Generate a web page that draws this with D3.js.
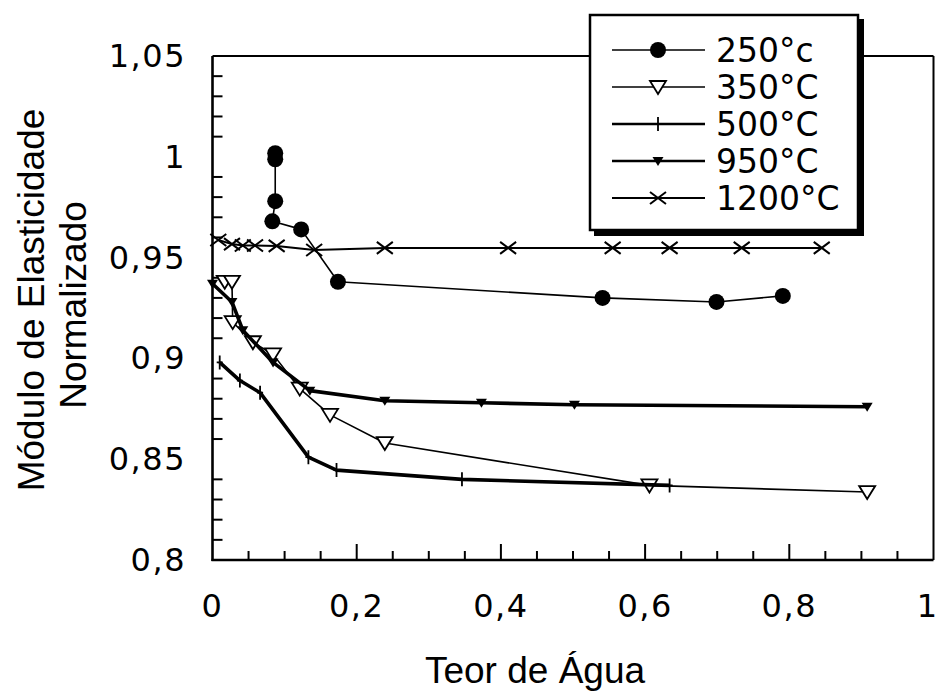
<!DOCTYPE html>
<html>
<head>
<meta charset="utf-8">
<script src="https://cdn.jsdelivr.net/npm/d3@7"></script>
<style>
  body { margin: 0; background: #fff; }
  .tick-label { font-family: "DejaVu Sans", sans-serif; font-size: 32px; letter-spacing: 1.5px; fill: #000; }
  .legend-label { font-family: "DejaVu Sans", sans-serif; font-size: 33px; fill: #000; }
  .axis-title { font-family: "Liberation Sans", Arial, sans-serif; font-size: 37px; fill: #000; }
</style>
</head>
<body>
<div id="chart"></div>
<script>
// data
const x250 = [0.087, 0.087, 0.087, 0.083, 0.123, 0.174, 0.541, 0.699, 0.791];
const y250 = [1.0018, 0.9988, 0.978, 0.968, 0.964, 0.938, 0.930, 0.928, 0.931];

const x350 = [0.017, 0.027, 0.028, 0.056, 0.084, 0.121, 0.163, 0.239, 0.606, 0.908];
const y350 = [0.938, 0.938, 0.918, 0.908, 0.902, 0.885, 0.872, 0.858, 0.837, 0.8337];

const x500 = [0.01, 0.038, 0.066, 0.133, 0.172, 0.346, 0.634];
const y500 = [0.898, 0.889, 0.883, 0.851, 0.8446, 0.840, 0.837];

const x950 = [0.0, 0.027, 0.042, 0.084, 0.135, 0.239, 0.373, 0.502, 0.908];
const y950 = [0.937, 0.928, 0.914, 0.898, 0.884, 0.879, 0.878, 0.877, 0.876];

const x1200 = [0.008, 0.027, 0.042, 0.059, 0.089, 0.141, 0.239, 0.41, 0.555, 0.634, 0.734, 0.845];
const y1200 = [0.9587, 0.9567, 0.956, 0.956, 0.9558, 0.9538, 0.9548, 0.9548, 0.9548, 0.9548, 0.9548, 0.9548];

const seriesNames = ["250°c", "350°C", "500°C", "950°C", "1200°C"];
const xTickLabels = ["0", "0,2", "0,4", "0,6", "0,8", "1"];
const yTickLabels = ["0,8", "0,85", "0,9", "0,95", "1", "1,05"];

const series = [
  { name: seriesNames[0], xs: x250, ys: y250, marker: "circle", lw: 1.6 },
  { name: seriesNames[1], xs: x350, ys: y350, marker: "openTri", lw: 1.6 },
  { name: seriesNames[2], xs: x500, ys: y500, marker: "plus", lw: 3.6 },
  { name: seriesNames[3], xs: x950, ys: y950, marker: "fillTri", lw: 3.6 },
  { name: seriesNames[4], xs: x1200, ys: y1200, marker: "cross", lw: 2 }
];

const width = 938;
const height = 691;

const svg = d3.select("#chart").append("svg")
  .attr("width", width)
  .attr("height", height);

const x = d3.scaleLinear().domain([0, 1]).range([212.5, 933.5]);
const y = d3.scaleLinear().domain([0.8, 1.05]).range([560, 56]);

// frame
const frame = svg.append("g").attr("class", "frame");
frame.append("line").attr("x1", x(0)).attr("x2", x(1)).attr("y1", y(1.05)).attr("y2", y(1.05))
  .attr("stroke", "#000").attr("stroke-width", 2);
frame.append("line").attr("x1", x(1)).attr("x2", x(1)).attr("y1", y(1.05)).attr("y2", y(0.8))
  .attr("stroke", "#000").attr("stroke-width", 2);
frame.append("line").attr("x1", x(0)).attr("x2", x(0)).attr("y1", y(1.05)).attr("y2", y(0.8) + 1)
  .attr("stroke", "#000").attr("stroke-width", 2.6);
frame.append("line").attr("x1", x(0) - 1).attr("x2", x(1)).attr("y1", y(0.8)).attr("y2", y(0.8))
  .attr("stroke", "#000").attr("stroke-width", 2.6);

// y minor ticks (inward), none at the labelled values
const yTicks = d3.range(81, 105).map(d => d / 100).filter(d => Math.round(d * 100) % 5 !== 0);
frame.selectAll(".ytick").data(yTicks).enter().append("line")
  .attr("x1", x(0)).attr("x2", x(0) + 10)
  .attr("y1", d => y(d)).attr("y2", d => y(d))
  .attr("stroke", "#000").attr("stroke-width", 2);

// x ticks every 0.05, longer at 0.2
const xTicks = d3.range(1, 20).map(d => d / 20);
frame.selectAll(".xtick").data(xTicks).enter().append("line")
  .attr("x1", d => x(d)).attr("x2", d => x(d))
  .attr("y1", y(0.8))
  .attr("y2", d => Math.round(d * 20) % 4 === 0 ? y(0.8) - 16 : y(0.8) - 9)
  .attr("stroke", "#000").attr("stroke-width", 2);

// tick labels
svg.selectAll(".xlab").data(xTickLabels).enter().append("text")
  .attr("class", "tick-label")
  .attr("x", (d, i) => i === 5 ? 937 : x(i * 0.2))
  .attr("y", 617)
  .attr("text-anchor", (d, i) => i === 5 ? "end" : "middle")
  .style("letter-spacing", (d, i) => i === 5 ? "0px" : null)
  .text(d => d);

svg.selectAll(".ylab").data(yTickLabels).enter().append("text")
  .attr("class", "tick-label")
  .attr("x", 186)
  .attr("y", (d, i) => y(0.8 + i * 0.05) + 11)
  .attr("text-anchor", "end")
  .text(d => d);

// axis titles
svg.append("text").attr("class", "axis-title")
  .attr("x", 535).attr("y", 683)
  .attr("text-anchor", "middle")
  .text("Teor de Água");

svg.append("text").attr("class", "axis-title")
  .attr("transform", "translate(44,300) rotate(-90)")
  .attr("text-anchor", "middle")
  .text("Módulo de Elasticidade");

svg.append("text").attr("class", "axis-title")
  .attr("transform", "translate(86,305) rotate(-90)")
  .attr("text-anchor", "middle")
  .text("Normalizado");

// markers
function drawMarker(g, type) {
  if (type === "circle") {
    g.append("circle").attr("r", 8).attr("fill", "#000");
  } else if (type === "openTri") {
    g.append("path").attr("d", "M-8,-6L8,-6L0,7Z")
      .attr("fill", "#fff").attr("stroke", "#000").attr("stroke-width", 1.8);
  } else if (type === "fillTri") {
    g.append("path").attr("d", "M-5.5,-4L5.5,-4L0,5Z").attr("fill", "#000");
  } else if (type === "plus") {
    g.append("path").attr("d", "M0,-7V7M-3,0H3")
      .attr("stroke", "#000").attr("stroke-width", 1.8);
  } else if (type === "cross") {
    g.append("path").attr("d", "M-8,-6L8,6M-8,6L8,-6")
      .attr("stroke", "#000").attr("stroke-width", 2);
  }
}

const line = d3.line().x(d => x(d[0])).y(d => y(d[1]));
const plot = svg.append("g").attr("class", "series");

series.forEach(s => {
  const pts = s.xs.map((v, i) => [v, s.ys[i]]);
  plot.append("path")
    .datum(pts)
    .attr("d", line)
    .attr("fill", "none")
    .attr("stroke", "#000")
    .attr("stroke-width", s.lw)
    .attr("stroke-linejoin", "round");
  plot.selectAll(null).data(pts).enter().append("g")
    .attr("transform", d => `translate(${x(d[0])},${y(d[1])})`)
    .each(function () { drawMarker(d3.select(this), s.marker); });
});

// legend
const legend = svg.append("g").attr("class", "legend");
legend.append("rect").attr("x", 594).attr("y", 19).attr("width", 270).attr("height", 217)
  .attr("fill", "#000");
legend.append("rect").attr("x", 590).attr("y", 15).attr("width", 268).attr("height", 215)
  .attr("fill", "#fff").attr("stroke", "#000").attr("stroke-width", 2.5);

const rows = legend.selectAll(".row").data(series).enter().append("g")
  .attr("transform", (d, i) => `translate(0,${50 + i * 37})`);
rows.append("line").attr("x1", 612).attr("x2", 705).attr("y1", 0).attr("y2", 0)
  .attr("stroke", "#000").attr("stroke-width", d => Math.min(d.lw, 2.4));
rows.append("g").attr("transform", "translate(658,0)")
  .each(function (d) { drawMarker(d3.select(this), d.marker); });
rows.append("text").attr("class", "legend-label")
  .attr("x", 716).attr("y", 12)
  .text(d => d.name);
</script>
</body>
</html>
